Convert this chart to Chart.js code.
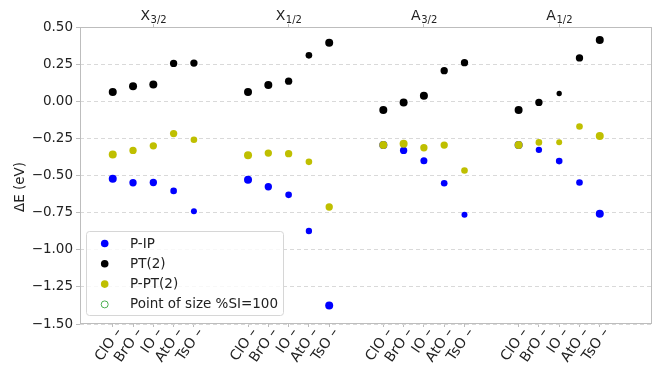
<!DOCTYPE html>
<html>
<head>
<meta charset="utf-8">
<script src="https://cdn.jsdelivr.net/npm/chart.js@4.4.1/dist/chart.umd.min.js"></script>
<style>
  html, body { margin: 0; padding: 0; background: #fff; }
  #chart { display: block; }
</style>
</head>
<body>
<canvas id="chart" width="656" height="369"></canvas>
<script>
// molecules inside each electronic state, states along the top
var molecules = ['ClO', 'BrO', 'IO', 'AtO', 'TsO'];
var stateLetters = ['X', 'X', 'A', 'A'];
var stateSubs = ['3/2', '1/2', '3/2', '1/2'];

// ΔE (eV), 5 molecules per state, states in order X3/2, X1/2, A3/2, A1/2
var pip = [-0.522, -0.549, -0.547, -0.604, -0.741,
           -0.529, -0.576, -0.630, -0.874, -1.376,
           -0.295, -0.331, -0.401, -0.552, -0.764,
           -0.294, -0.327, -0.403, -0.547, -0.758];
var pt2 = [0.063, 0.101, 0.113, 0.255, 0.257,
           0.063, 0.110, 0.135, 0.309, 0.394,
           -0.059, -0.009, 0.037, 0.206, 0.260,
           -0.059, -0.008, 0.052, 0.292, 0.412];
var ppt2 = [-0.358, -0.331, -0.300, -0.218, -0.259,
            -0.363, -0.349, -0.353, -0.408, -0.712,
            -0.295, -0.286, -0.313, -0.295, -0.466,
            -0.294, -0.277, -0.276, -0.170, -0.234];

// %SI of each point (marker area)
var siPip = [100, 84, 84, 69, 56,
             100, 84, 69, 63, 100,
             100, 84, 77, 69, 56,
             100, 63, 69, 69, 100];
var siPt2 = [100, 100, 100, 84, 84,
             100, 100, 84, 69, 100,
             100, 100, 100, 84, 84,
             100, 84, 44, 84, 100];
var siPpt2 = [100, 84, 84, 84, 69,
              100, 84, 84, 69, 84,
              100, 100, 84, 84, 69,
              100, 69, 56, 69, 100];

var yTicks = [-1.5, -1.25, -1.0, -0.75, -0.5, -0.25, 0.0, 0.25, 0.5];

var FONT = '"DejaVu Sans", "Liberation Sans", sans-serif';
var TEXT = '#222';
var SPINE = '#bdbdbd';
var STEP = 0.15;

function xPos(i) {
    var g = Math.floor(i / molecules.length);
    var m = i % molecules.length;
    return g + (m - 2) * STEP;
}

function points(vals) {
    return vals.map(function(v, i) { return { x: xPos(i), y: v }; });
}

function radiusFrom(si) {
    return function(ctx) { return 0.4 * Math.sqrt(si[ctx.dataIndex]); };
}

var bottomTicks = pip.map(function(v, i) { return xPos(i); });
var topTicks = stateLetters.map(function(s, g) { return g; });

var datasets = [
    { label: 'P-IP', data: points(pip), backgroundColor: '#0000ff', pointRadius: radiusFrom(siPip), order: 3 },
    { label: 'PT(2)', data: points(pt2), backgroundColor: '#000000', pointRadius: radiusFrom(siPt2), order: 2 },
    { label: 'P-PT(2)', data: points(ppt2), backgroundColor: '#bfbf00', pointRadius: radiusFrom(siPpt2), order: 1 }
];
datasets.forEach(function(d) {
    d.pointBorderWidth = 0;
    d.pointHoverRadius = d.pointRadius;
    d.pointHoverBorderWidth = 0;
});

var axisText = {
    id: 'axisText',
    beforeDatasetsDraw: function(chart) {
        var c = chart.ctx, a = chart.chartArea;
        c.save();
        c.strokeStyle = SPINE;
        c.lineWidth = 1;
        c.strokeRect(Math.round(a.left) + 0.5, Math.round(a.top) + 0.5,
            Math.round(a.right - a.left) - 1, Math.round(a.bottom - a.top) - 1);
        c.restore();
    },
    afterDraw: function(chart) {
        var c = chart.ctx;
        var xs = chart.scales.x, xt = chart.scales.x2;
        c.save();
        c.fillStyle = TEXT;

        // molecule labels, rotated
        c.font = '14px ' + FONT;
        c.textAlign = 'right';
        c.textBaseline = 'middle';
        bottomTicks.forEach(function(t, i) {
            var px = xs.getPixelForValue(t);
            c.save();
            c.translate(px + 6.5, 330);
            c.rotate(-55 * Math.PI / 180);
            c.fillText(molecules[i % molecules.length] + ' \u2013', 0, 0);
            c.restore();
        });

        // state labels with subscripts
        c.textAlign = 'left';
        c.textBaseline = 'alphabetic';
        topTicks.forEach(function(t, g) {
            var px = xt.getPixelForValue(t);
            c.font = '14px ' + FONT;
            var w1 = c.measureText(stateLetters[g]).width;
            c.font = '10px ' + FONT;
            var w2 = c.measureText(stateSubs[g]).width;
            var x0 = px - (w1 + w2) / 2;
            c.font = '14px ' + FONT;
            c.fillText(stateLetters[g], x0, 19.5);
            c.font = '10px ' + FONT;
            c.fillText(stateSubs[g], x0 + w1 + 0.5, 23);
        });

        // y title
        c.font = '13.5px ' + FONT;
        c.textAlign = 'center';
        c.textBaseline = 'middle';
        c.translate(20, 187);
        c.rotate(-Math.PI / 2);
        c.fillText('\u0394E (eV)', 0, 0);
        c.restore();

        // legend box
        var names = datasets.map(function(d) { return d.label; });
        names.push('Point of size %SI=100');
        c.save();
        c.beginPath();
        c.roundRect(86.5, 231.5, 197, 84, 3);
        c.fillStyle = 'rgba(255,255,255,0.8)';
        c.fill();
        c.strokeStyle = '#d6d6d6';
        c.lineWidth = 1;
        c.stroke();
        c.font = '13.5px ' + FONT;
        c.textAlign = 'left';
        c.textBaseline = 'middle';
        names.forEach(function(n, i) {
            var y = 243.5 + i * 20.3;
            c.beginPath();
            if (i < datasets.length) {
                c.arc(104.7, y, 3.8, 0, Math.PI * 2);
                c.fillStyle = datasets[i].backgroundColor;
                c.fill();
            } else {
                c.arc(104.7, y, 3.5, 0, Math.PI * 2);
                c.strokeStyle = '#4caf50';
                c.lineWidth = 1;
                c.stroke();
            }
            c.fillStyle = TEXT;
            c.fillText(n, 130, y + 0.5);
        });
        c.restore();
    }
};

var ctx = document.getElementById('chart').getContext('2d');
var chart = new Chart(ctx, {
    type: 'scatter',
    data: { datasets: datasets },
    options: {
        responsive: false,
        animation: false,
        devicePixelRatio: 1,
        layout: { padding: { left: 0, right: 4, top: 1, bottom: 0 } },
        plugins: {
            legend: { display: false },
            tooltip: { enabled: false }
        },
        scales: {
            x: {
                type: 'linear',
                position: 'bottom',
                min: -0.542,
                max: 3.686,
                afterBuildTicks: function(scale) {
                    scale.ticks = bottomTicks.map(function(v) { return { value: v }; });
                },
                afterFit: function(scale) { scale.height = 45; },
                ticks: { display: false },
                grid: { drawOnChartArea: false, drawTicks: true, tickLength: 3, color: SPINE },
                border: { display: false }
            },
            x2: {
                type: 'linear',
                position: 'top',
                min: -0.542,
                max: 3.686,
                afterBuildTicks: function(scale) {
                    scale.ticks = topTicks.map(function(v) { return { value: v }; });
                },
                afterFit: function(scale) { scale.height = 26; },
                ticks: { display: false },
                grid: { drawOnChartArea: false, drawTicks: true, tickLength: 3, color: SPINE },
                border: { display: false }
            },
            y: {
                min: -1.5,
                max: 0.5,
                afterBuildTicks: function(scale) {
                    scale.ticks = yTicks.map(function(v) { return { value: v }; });
                },
                afterFit: function(scale) { scale.width = 80; },
                ticks: {
                    color: TEXT,
                    padding: 3,
                    font: { family: FONT, size: 13.5 },
                    callback: function(v) { return Number(v).toFixed(2).replace('-', '\u2212'); }
                },
                grid: { color: '#d9d9d9', tickColor: SPINE, tickLength: 4, lineWidth: 1 },
                border: { display: false, dash: [4, 3] }
            }
        }
    },
    plugins: [axisText]
});
</script>
</body>
</html>
